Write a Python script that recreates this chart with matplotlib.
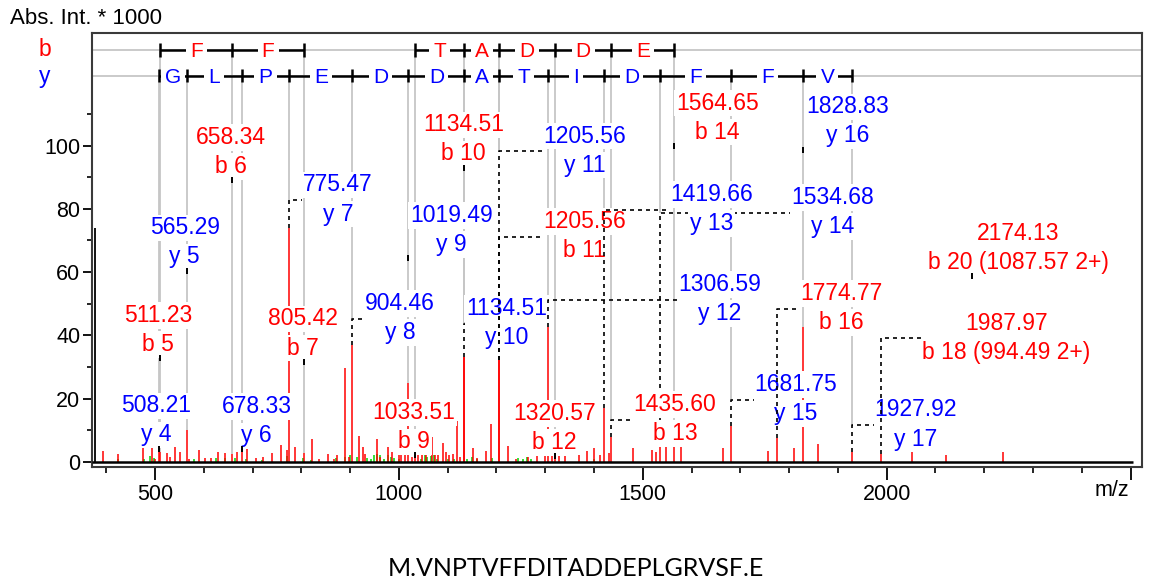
import matplotlib.pyplot as plt
import numpy as np
from matplotlib.transforms import offset_copy

plt.rcParams["font.family"] = ["Liberation Sans", "DejaVu Sans"]

RED = "#ff0000"
BLUE = "#0000ff"
GREEN = "#00d400"
GRAY = "#c6c6c6"

# b ions: number, m/z, peak height, label anchor
# leader: 0 = tick under label, 1 = dashed leader behind labels, 2 = dashed leader over labels
b_num = [5, 6, 7, 9, 10, 11, 12, 13, 14, 16, 18, 20]
b_mz = [511.23, 658.34, 805.42, 1033.51, 1134.51, 1205.56, 1320.57,
        1435.60, 1564.65, 1774.77, 1987.97, 2174.13]
b_int = [3.0, 2.5, 2.8, 2.0, 33.0, 32.2, 2.5, 7.7, 5.6, 7.4, 2.4, 0.0]
b_note = ["", "", "", "", "", "", "", "", "", "", " (994.49 2+)", " (1087.57 2+)"]
b_lab_mz = [506.2, 654.8, 804.0, 1031.0, 1132.0, 1380.9, 1318.4,
            1566.0, 1652.5, 1906.3, 2245.0, 2270.1]
b_lab_int = [42.2, 98.5, 41.0, 11.3, 102.4, 71.8, 11.1, 13.9, 109.3, 49.0, 39.7, 68.2]
b_leader = [0, 0, 0, 0, 0, 2, 0, 2, 0, 2, 2, 0]
b_ladder = [5, 6, 7, 9, 10, 11, 12, 13, 14]
b_steps = ["F", "F", "", "T", "A", "D", "D", "E"]

# y ions
y_num = [4, 5, 6, 7, 8, 9, 10, 11, 12, 13, 14, 15, 16, 17]
y_mz = [508.21, 565.29, 678.33, 775.47, 904.46, 1019.49, 1134.51, 1205.56,
        1306.59, 1419.66, 1534.68, 1681.75, 1828.83, 1927.92]
y_int = [3.0, 10.0, 4.0, 74.0, 36.9, 24.8, 33.0, 32.2, 42.7, 17.0, 5.6, 11.2, 42.7, 3.2]
y_lab_mz = [502.0, 560.9, 708.5, 875.2, 1002.3, 1108.2, 1220.6, 1380.9,
            1658.3, 1641.3, 1888.9, 1814.1, 1919.6, 2060.1]
y_lab_int = [13.5, 69.8, 13.2, 83.4, 45.8, 73.7, 44.3, 98.9, 51.9, 80.4, 79.4, 20.3, 108.1, 12.2]
y_leader = [0, 0, 0, 2, 2, 0, 2, 2, 2, 2, 1, 2, 0, 2]
y_ladder = y_num
y_steps = list("GLPEDDATIDFFV")

# unassigned peaks
red_mz = [394, 423.5, 476, 494.5, 500, 524, 530, 541, 551, 570, 591, 602, 614, 630,
          643, 667.5, 689, 707, 721, 739, 757.6, 769.9, 787, 821, 836, 855, 868,
          872.7, 889.5, 897, 918.8, 925.6, 931, 954.4, 962, 978.3, 985, 1000, 1005,
          1012, 1026, 1040, 1048, 1055, 1067, 1075, 1081, 1089.8, 1096, 1103, 1110,
          1118.5, 1125, 1151.3, 1160, 1178, 1188.2, 1224.3, 1240, 1265, 1283, 1300,
          1314, 1328, 1340, 1369, 1386, 1400.6, 1413, 1430, 1480.6, 1518, 1527,
          1547.6, 1578.3, 1665, 1757, 1810.6, 1858.5, 2052.5, 2121, 2239]
red_int = [3.3, 2.5, 4.7, 4.8, 1.0, 2.8, 1.5, 4.7, 3.2, 1.0, 3.7, 1.2, 1.2, 3.2,
           2.6, 3.2, 4.2, 1.2, 1.6, 2.8, 5.3, 3.7, 4.7, 7.1, 1.0, 2.4, 1.0,
           2.1, 29.5, 1.5, 8.1, 4.7, 2.5, 7.1, 1.5, 4.7, 3.0, 3.0, 2.5,
           3.0, 1.5, 2.5, 2.0, 2.5, 7.7, 2.0, 2.0, 5.9, 3.0, 2.0, 2.5,
           13.0, 1.5, 4.2, 1.2, 3.5, 11.9, 5.0, 1.0, 1.5, 2.5, 2.0,
           2.5, 2.0, 2.5, 2.0, 3.5, 4.2, 2.0, 2.7, 4.2, 3.8, 3.0,
           5.6, 5.6, 4.2, 3.5, 4.2, 5.6, 3.8, 2.1, 3.0]
green_mz = [425, 478, 490, 497, 580, 626, 643, 665, 687, 720, 770, 804, 820, 872,
            890, 900, 915, 935, 942, 948, 955, 962, 970, 977, 983, 990, 1000, 1045,
            1053, 1058, 1065, 1072, 1078, 1100, 1112, 1140, 1150, 1160, 1190, 1245,
            1255, 1262, 1270, 1400]
green_int = [0.8, 1.0, 1.8, 1.2, 0.8, 1.2, 1.3, 1.2, 0.8, 0.5, 1.8, 1.3, 0.6, 1.2,
             1.5, 2.0, 1.5, 1.2, 1.0, 2.0, 2.5, 2.0, 1.0, 2.2, 1.5, 1.2, 1.0, 1.0,
             2.5, 1.5, 1.8, 2.0, 1.0, 0.8, 1.0, 1.0, 1.5, 0.8, 1.2, 1.2,
             0.8, 1.5, 1.0, 1.0]
edge_mz = [376.9]
edge_int = [74.0]

B_ROW = 130.3
Y_ROW = 122.1

fig = plt.figure(figsize=(11.51, 5.82), dpi=100)
ax = fig.add_axes([92 / 1151, 1 - 466.7 / 582, 1050 / 1151, 433.7 / 582])
ax.set_xlim(370.9, 2523.4)
ax.set_ylim(-1.58, 135.66)

for s in ax.spines.values():
    s.set_color("#3a3a3a")
    s.set_linewidth(1.5)

ax.set_xticks([500, 1000, 1500, 2000, 2500])
ax.set_xticklabels(["500", "1000", "1500", "2000", ""])
ax.set_xticks(np.arange(400, 2501, 100), minor=True)
ax.set_yticks([0, 20, 40, 60, 80, 100])
ax.set_yticks([10, 30, 50, 70, 90, 110], minor=True)
ax.tick_params(axis="x", which="major", length=9.5, width=1.3, labelsize=15.5, pad=3)
ax.tick_params(axis="x", which="minor", length=4, width=1.2)
ax.tick_params(axis="y", which="major", length=6.5, width=1.3, labelsize=15.5, pad=2)
ax.tick_params(axis="y", which="minor", length=3.4, width=1.2)

# spectrum
ax.vlines(green_mz, 0, green_int, color=GREEN, lw=1.1, zorder=2)
ax.vlines(red_mz, 0, red_int, color=RED, lw=1.1, zorder=2)
ax.vlines(b_mz, 0, b_int, color=RED, lw=1.1, zorder=2)
ax.vlines(y_mz, 0, y_int, color=RED, lw=1.1, zorder=2)
ax.vlines(edge_mz, 0, edge_int, color="black", lw=1.3, zorder=2)
ax.hlines(0, 370.9, 2505, color="black", lw=1.8, zorder=3)

fig.text(10 / 1151, 1 - 19 / 582, "Abs. Int. * 1000", fontsize=16, ha="left", va="center")
fig.text(1112 / 1151, 1 - 490 / 582, "m/z", fontsize=15.5, ha="center", va="center")
fig.text(576 / 1151, 1 - 568 / 582, "M.VNPTVFFDITADDEPLGRVSF.E", fontsize=18,
         family=["Lato", "DejaVu Sans"], ha="center", va="center")
fig.text(45 / 1151, 1 - 50 / 582, "b", color=RED, fontsize=16.5, ha="center", va="center")
fig.text(45 / 1151, 1 - 76 / 582, "y", color=BLUE, fontsize=16.5, ha="center", va="center")


def draw_ladder(row, nums, mzs, ladder, steps, color):
    pos = dict(zip(nums, mzs))
    ax.axhline(row, color=GRAY, lw=1.3, zorder=1)
    ax.vlines([pos[n] for n in ladder], row - 2.1, row + 2.1, color="black", lw=1.8, zorder=4)
    letter_tr = offset_copy(ax.transData, fig=fig, y=-5.0, units="points")
    for a, b, s in zip(ladder[:-1], ladder[1:], steps):
        if not s:
            continue
        ax.hlines(row, pos[a], pos[b], color="black", lw=1.8, zorder=4)
        ax.text((pos[a] + pos[b]) / 2, row, s, color=color, fontsize=15,
                ha="center", va="baseline", transform=letter_tr, zorder=5,
                bbox=dict(boxstyle="square,pad=0.2", fc="white", ec="none"))


draw_ladder(B_ROW, b_num, b_mz, b_ladder, b_steps, RED)
draw_ladder(Y_ROW, y_num, y_mz, y_ladder, y_steps, BLUE)

top_tr = offset_copy(ax.transData, fig=fig, y=4.8, units="points")
bot_tr = offset_copy(ax.transData, fig=fig, y=-16.1, units="points")
label_box = dict(boxstyle="square,pad=0.08", fc="white", ec="none")
leader_z = {1: 2.5, 2: 4}

ions = []
for kind, nums, mzs, ints, notes, lmz, lint, lead, row, ladder, color in [
    ("b", b_num, b_mz, b_int, b_note, b_lab_mz, b_lab_int, b_leader, B_ROW, b_ladder, RED),
    ("y", y_num, y_mz, y_int, [""] * len(y_num), y_lab_mz, y_lab_int, y_leader, Y_ROW, y_ladder, BLUE),
]:
    for i, n in enumerate(nums):
        t1 = ax.text(lmz[i], lint[i], f"{mzs[i]:.2f}", color=color, fontsize=16.5,
                     ha="center", va="baseline", transform=top_tr, zorder=3, bbox=label_box)
        t2 = ax.text(lmz[i], lint[i], f"{kind} {n}{notes[i]}", color=color, fontsize=16.5,
                     ha="center", va="baseline", transform=bot_tr, zorder=3, bbox=label_box)
        ions.append(dict(mz=mzs[i], h=ints[i], lx=lmz[i], ly=lint[i], lead=lead[i],
                         row=row if n in ladder else None, texts=(t1, t2)))

fig.canvas.draw()
renderer = fig.canvas.get_renderer()
ppu = ax.transData.transform((0, 1))[1] - ax.transData.transform((0, 0))[1]
inv = ax.transData.inverted()

# level of the dashed leader for each ion
for ion in ions:
    ion["level"] = ion["ly"] - 2 / ppu if ion["lead"] else None

top_level = {}
for ion in ions:
    if ion["level"] is not None:
        top_level[ion["mz"]] = max(top_level.get(ion["mz"], -1), ion["level"])

dash = (0, (2.4, 2.4))
for ion in ions:
    mz = ion["mz"]
    if ion["row"] is not None:
        end = top_level.get(mz, ion["h"])
        ax.vlines(mz, end, ion["row"], color=GRAY, lw=1.3, zorder=1)
    if ion["lead"]:
        left = min(t.get_window_extent(renderer).x0 for t in ion["texts"])
        x_end = inv.transform((left - 1, 0))[0]
        ax.plot([mz, mz, x_end], [ion["h"], ion["level"], ion["level"]],
                color="black", lw=1.2, ls=dash, zorder=leader_z[ion["lead"]])
    else:
        ax.vlines(mz, ion["ly"] - 32.5 / ppu, ion["ly"] - 26.5 / ppu,
                  color="black", lw=1.4, zorder=4)

fig.savefig("out.png", dpi=100)
